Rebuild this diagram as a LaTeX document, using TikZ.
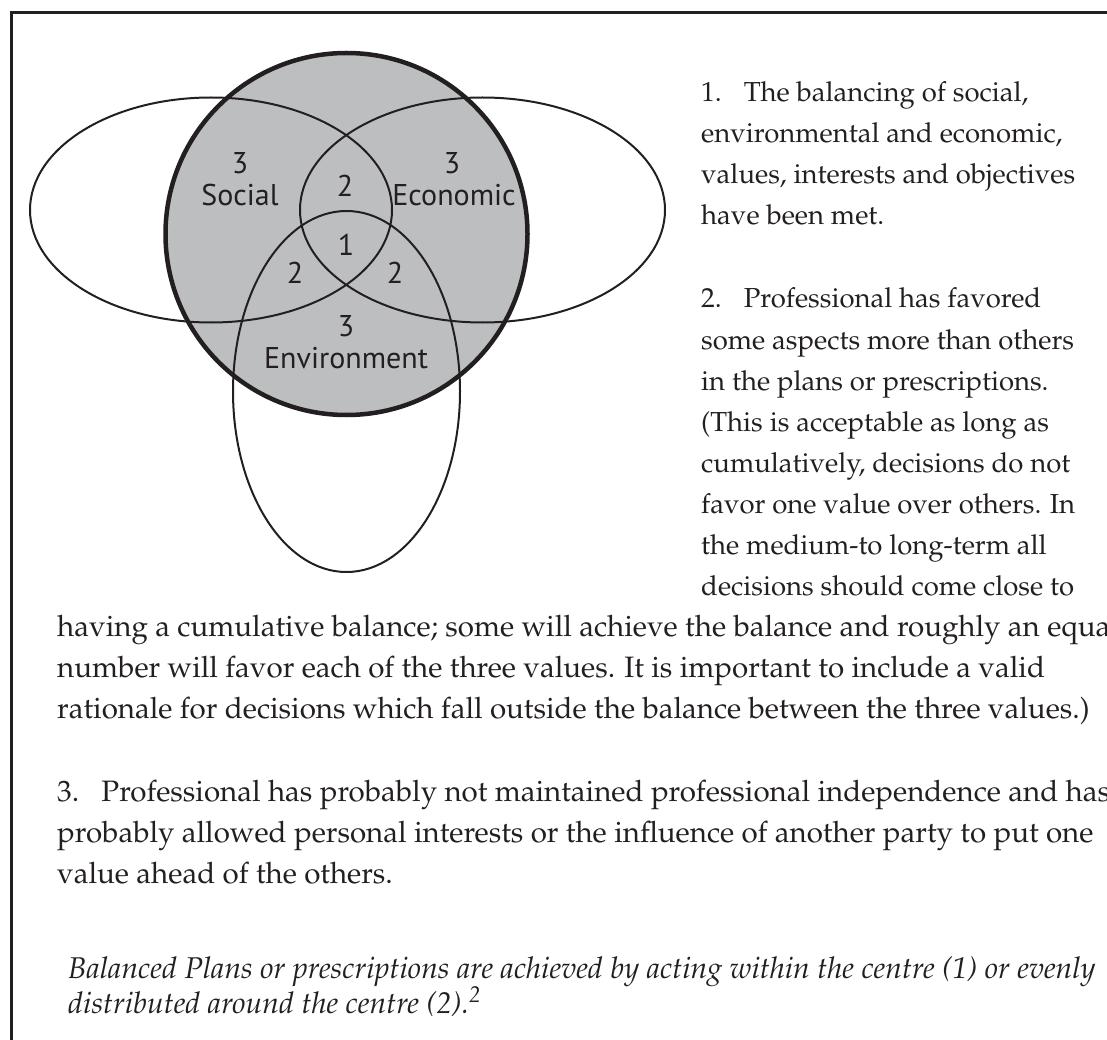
\documentclass[tikz,border=0pt]{standalone}
\usepackage{fontspec}
\newfontfamily\vennfont{PT Sans}
\usepackage[T1]{fontenc}
\usepackage{mathpazo}
\definecolor{ink}{RGB}{35,31,32}
\definecolor{vennfill}{RGB}{188,190,192}
\tikzset{every path/.style={ink}, ring/.style={line width=2pt}, bigring/.style={line width=4.5pt},
  lbl/.style={font=\vennfont\fontsize{30}{32}\selectfont, text=ink, inner sep=0pt},
  para/.style={font=\fontsize{29.5}{40}\selectfont, text=ink, anchor=base west, inner sep=0pt},
  sidepara/.style={para, font=\fontsize{27.5}{40}\selectfont},
  note/.style={font=\itshape\fontsize{30}{35}\selectfont, text=ink, anchor=base west, inner sep=0pt}}

\begin{document}
\begin{tikzpicture}[x=1pt,y=-1pt]
   \useasboundingbox (0,0) rectangle (1107,1040);
   % frame, cut off at right and bottom
   \coordinate (fb) at (11,1100);
   \coordinate (fc) at (11,13);
   \coordinate (fr) at (1150,13);
   \draw[line width=3pt] (fb) -- (fc) -- (fr);
   % venn diagram
   \begin{scope}
    \fill[vennfill] (346.5,234) circle[radius=181pt];
    \draw[ring] (211,210) ellipse[x radius=181pt, y radius=112.5pt];
    \draw[ring] (482.5,210) ellipse[x radius=182.5pt, y radius=112.5pt];
    \draw[ring] (346.5,391.5) ellipse[x radius=113.5pt, y radius=180.5pt];
    \draw[bigring] (346.5,234) circle[radius=181pt];
    \node[lbl] (soc3) at (240,163) {3};
    \node[lbl] (soc)  at (240,195) {Social};
    \node[lbl] (eco3) at (452,163) {3};
    \node[lbl] (eco)  at (454,195) {Economic};
    \node[lbl] (top2) at (345,186) {2};
    \node[lbl] (mid1) at (346,245) {1};
    \node[lbl] (lft2) at (295,273) {2};
    \node[lbl] (rgt2) at (395,273) {2};
    \node[lbl] (env3) at (346,326) {3};
    \node[lbl] (env)  at (346,358) {Environment};
   \end{scope}
   % numbered notes
   \foreach \txt [count=\i] in {{1.\hspace{0.8em}The balancing of social,},{environmental and economic,},
     {values, interests and objectives},{have been met.}}
     \node[sidepara] (a\i) at (701,{102+41*(\i-1)}) {\txt};
   \foreach \txt [count=\i] in {{2.\hspace{0.8em}Professional has favored},{some aspects more than others},
     {in the plans or prescriptions.},{(This is acceptable as long as},{cumulatively, decisions do not},
     {favor one value over others. In},{the medium-to long-term all},{decisions should come close to}}
     \node[sidepara] (b\i) at (701,{308+41*(\i-1)}) {\txt};
   \foreach \txt [count=\i] in {{having a cumulative balance; some will achieve the balance and roughly an equal},
     {number will favor each of the three values. It is important to include a valid},
     {rationale for decisions which fall outside the balance between the three values.)}}
     \node[para] (c\i) at (57,{636+41*(\i-1)}) {\txt};
   \foreach \txt [count=\i] in {{3.\hspace{0.75em}Professional has probably not maintained professional independence and has},
     {probably allowed personal interests or the influence of another party to put one},
     {value ahead of the others.}}
     \node[para] (d\i) at (57,{801+41*(\i-1)}) {\txt};
   \node[note] (n1) at (68,978) {Balanced Plans or prescriptions are achieved by acting within the centre (1) or evenly};
   \node[note] (n2) at (68,1013) {distributed around the centre (2).\textsuperscript{2}};
\end{tikzpicture}
\end{document}
